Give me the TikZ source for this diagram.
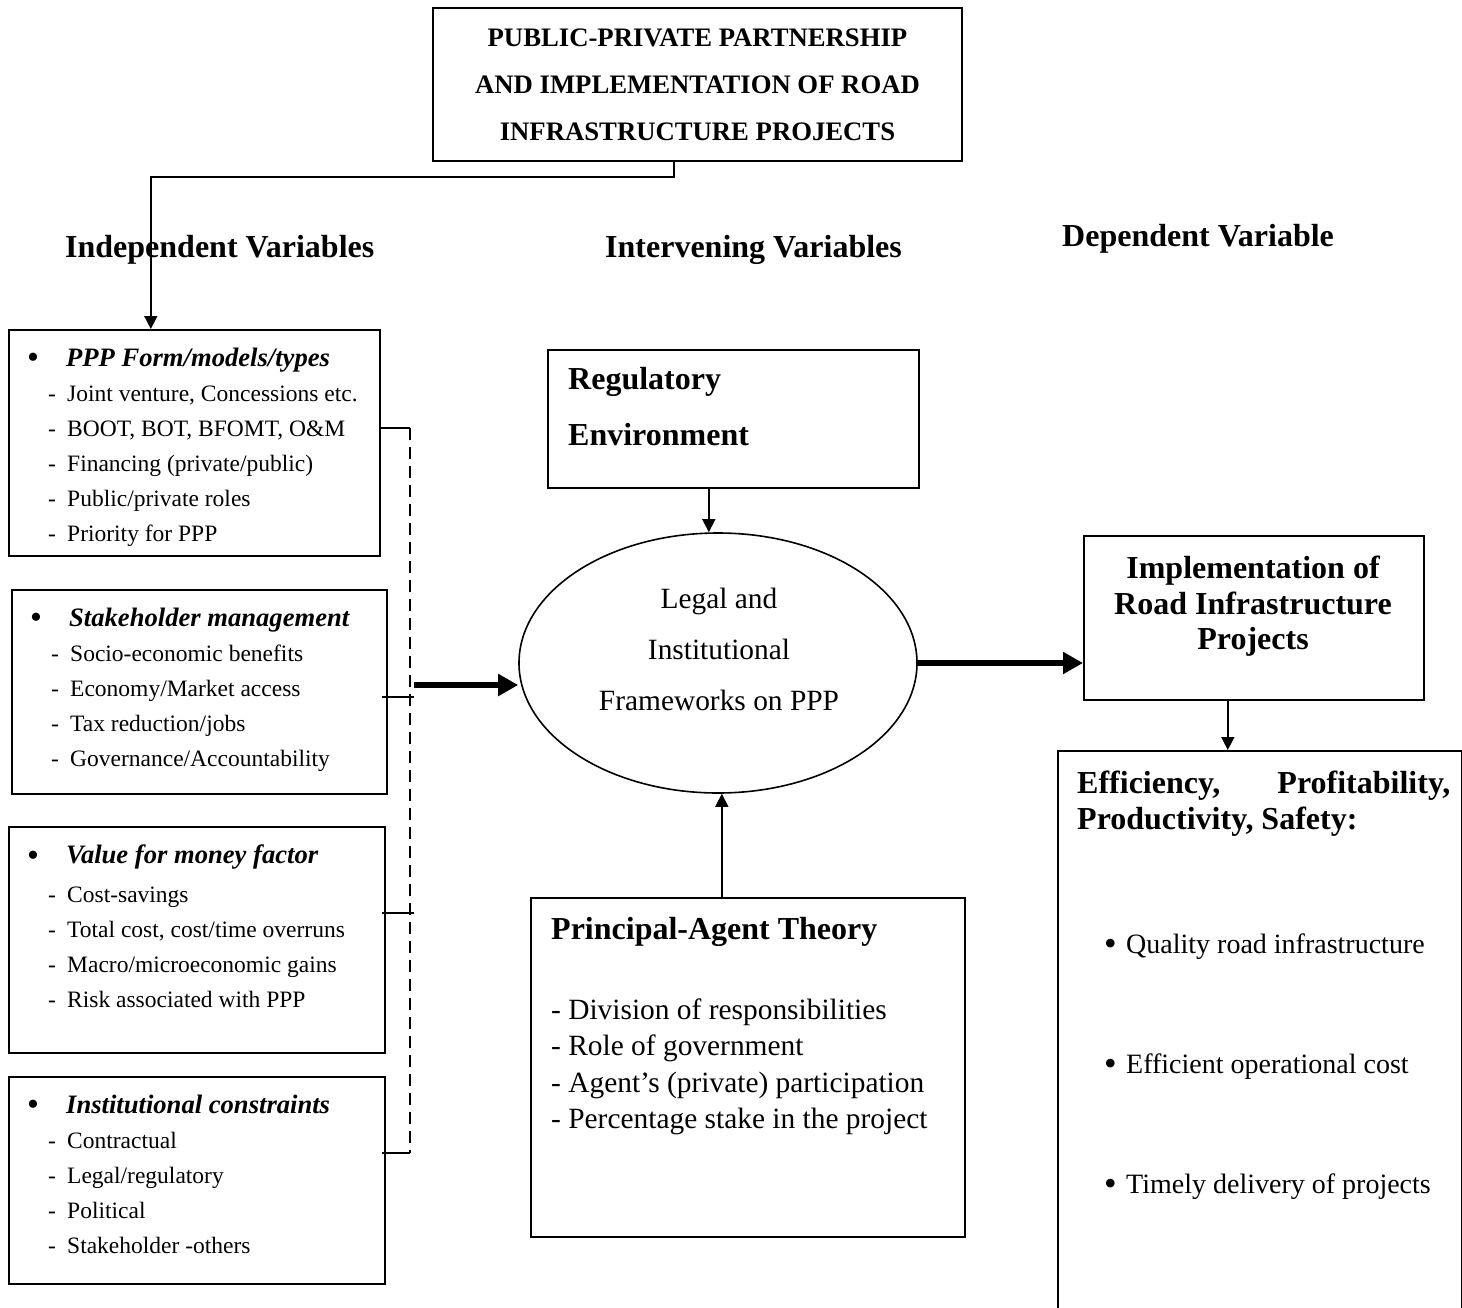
\documentclass[tikz,border=0pt]{standalone}
\usepackage{fontspec}
\setmainfont{Liberation Serif}
\usetikzlibrary{arrows.meta,shapes.geometric}

\newcommand{\vbul}{\raisebox{-2.5pt}{\fontsize{34}{35}\selectfont\textbullet}}
\newcommand{\vhead}[1]{\hspace*{19pt}\makebox[39pt][l]{\vbul}{\fontsize{26.6}{35}\selectfont\bfseries\itshape #1}}
\newcommand{\vitem}[1]{\hspace*{40pt}\makebox[19pt][l]{-}#1}

\begin{document}
\begin{tikzpicture}[x=1pt, y=-1pt,
  varbox/.style={draw, line width=1.6pt, rectangle, inner sep=0pt, anchor=north west},
  conn/.style={line width=1.6pt, -{Triangle[length=13pt,width=13pt]}},
  bigarrow/.style={line width=6.5pt, -{Triangle[length=20pt,width=21pt]}},
  vtext/.style={anchor=north west, inner sep=0pt, align=left, font=\fontsize{23.5}{35}\selectfont},
  colhead/.style={anchor=base west, inner sep=0pt, font=\fontsize{32}{38}\selectfont\bfseries}]

\useasboundingbox (0,0) rectangle (1462,1307);
\clip (0,0) rectangle (1462,1307);

% title
\node[varbox, anchor=center, minimum width=529pt, minimum height=153pt, align=center,
      font=\fontsize{26.7}{47}\selectfont\bfseries] (title) at (697.5,84.5)
  {PUBLIC-PRIVATE PARTNERSHIP\\AND IMPLEMENTATION OF ROAD\\INFRASTRUCTURE PROJECTS};

% column headings
\node[colhead] (indep) at (65,257) {Independent Variables};
\node[colhead] (interv) at (605,257) {Intervening Variables};
\node[colhead] (dep) at (1062,246) {Dependent Variable};

% independent variables
\node[varbox, minimum width=371pt, minimum height=226pt] (ppp) at (8,329) {};
\node[varbox, minimum width=375pt, minimum height=204pt] (stake) at (11,589) {};
\node[varbox, minimum width=376pt, minimum height=226pt] (vfm) at (8,826) {};
\node[varbox, minimum width=376pt, minimum height=207pt] (inst) at (8,1076) {};

\node[vtext] (ppptext) at ([yshift=-18.6pt]ppp.north west)
  {\vhead{PPP Form/models/types}\\ \vitem{Joint venture, Concessions etc.}\\
   \vitem{BOOT, BOT, BFOMT, O\&M}\\ \vitem{Financing (private/public)}\\
   \vitem{Public/private roles}\\ \vitem{Priority for PPP}};
\node[vtext] (staketext) at ([yshift=-18.6pt]stake.north west)
  {\vhead{Stakeholder management}\\ \vitem{Socio-economic benefits}\\
   \vitem{Economy/Market access}\\ \vitem{Tax reduction/jobs}\\
   \vitem{Governance/Accountability}};
\node[vtext] (vfmtext) at ([yshift=-18.6pt]vfm.north west)
  {\vhead{Value for money factor}\\[4pt] \vitem{Cost-savings}\\
   \vitem{Total cost, cost/time overruns}\\ \vitem{Macro/microeconomic gains}\\
   \vitem{Risk associated with PPP}};
\node[vtext] (insttext) at ([yshift=-18.6pt]inst.north west)
  {\vhead{Institutional constraints}\\ \vitem{Contractual}\\
   \vitem{Legal/regulatory}\\ \vitem{Political}\\
   \vitem{Stakeholder -others}};

\coordinate (split) at (674,177);
\draw[conn] (title.south -| split) -- (split) -| ([xshift=-43.5pt]ppp.north);

% bracket
\coordinate (b0) at (414,685);
\coordinate (b1) at (410,428);
\coordinate (b2) at (410,697);
\coordinate (b3) at (410,913);
\coordinate (b4) at (410,1153);
\draw[line width=1.6pt] (ppp.east |- b1) -- (b1);
\draw[line width=1.6pt] ([xshift=-6pt]stake.east |- b2) -- ([xshift=4pt]b2);
\draw[line width=1.6pt] ([xshift=-4pt]vfm.east |- b3) -- ([xshift=4pt]b3);
\draw[line width=1.6pt] ([xshift=-4pt]inst.east |- b4) -- (b4);
\draw[line width=2pt, dash pattern=on 12pt off 7pt] (b1) -- (b4);

% intervening variables
\node[draw, ellipse, line width=1.6pt, minimum width=398pt, minimum height=260pt, inner sep=0pt] (ell) at (718,663) {};
\node[align=center, inner sep=0pt, font=\fontsize{29.4}{51}\selectfont] (elltext) at (719,649)
  {Legal and\\Institutional\\Frameworks on PPP};

\node[varbox, minimum width=371pt, minimum height=138pt] (reg) at (547,349) {};
\node[anchor=north west, inner sep=0pt, align=left, font=\fontsize{32}{56}\selectfont\bfseries] (regtext) at (568,367)
  {Regulatory\\Environment};

\node[varbox, minimum width=434pt, minimum height=339pt] (pa) at (530,897) {};
\node[anchor=north west, inner sep=0pt, align=left, font=\fontsize{29.4}{36.5}\selectfont] (patext) at (551,917)
  {{\fontsize{32}{36}\selectfont\bfseries Principal-Agent Theory}\\[43.5pt]
   - Division of responsibilities\\ - Role of government\\
   - Agent’s (private) participation\\ - Percentage stake in the project};

\draw[conn] ([xshift=-24.5pt]reg.south) -- ([xshift=-24.5pt]reg.south |- ell.north);
\draw[conn] ([xshift=-26pt]pa.north) -- ([xshift=-26pt]pa.north |- ell.south);
\draw[bigarrow] (b0) -- (b0 -| ell.west);

% dependent variable
\node[varbox, minimum width=340pt, minimum height=164pt] (impl) at (1083,535) {};
\node[align=center, inner sep=0pt, font=\fontsize{32}{35.5}\selectfont\bfseries] (impltext) at (1253,606.5)
  {Implementation of\\Road Infrastructure\\Projects};
\draw[bigarrow] (ell.east) -- (ell.east -| impl.west);

\node[varbox, minimum width=404pt, minimum height=600pt] (outc) at (1057,750) {};
\draw[conn] ([xshift=-26pt]impl.south) -- ([xshift=-26pt]impl.south |- outc.north);
\node[anchor=north west, inner sep=0pt, text width=373pt, align=justify,
      font=\fontsize{32}{36}\selectfont\bfseries] (outchead) at (1077,771)
  {\hyphenpenalty=10000 Efficiency, Profitability, Productivity, Safety:};

\foreach \y/\t [count=\i] in {953/Quality road infrastructure, 1073/Efficient operational cost, 1193/Timely delivery of projects}
  \node[anchor=base west, inner sep=0pt, font=\fontsize{28}{34}\selectfont] (goal\i) at (1104,\y)
    {\makebox[22pt][l]{\raisebox{-2pt}{\fontsize{36}{36}\selectfont\textbullet}}\t};

\end{tikzpicture}
\end{document}
